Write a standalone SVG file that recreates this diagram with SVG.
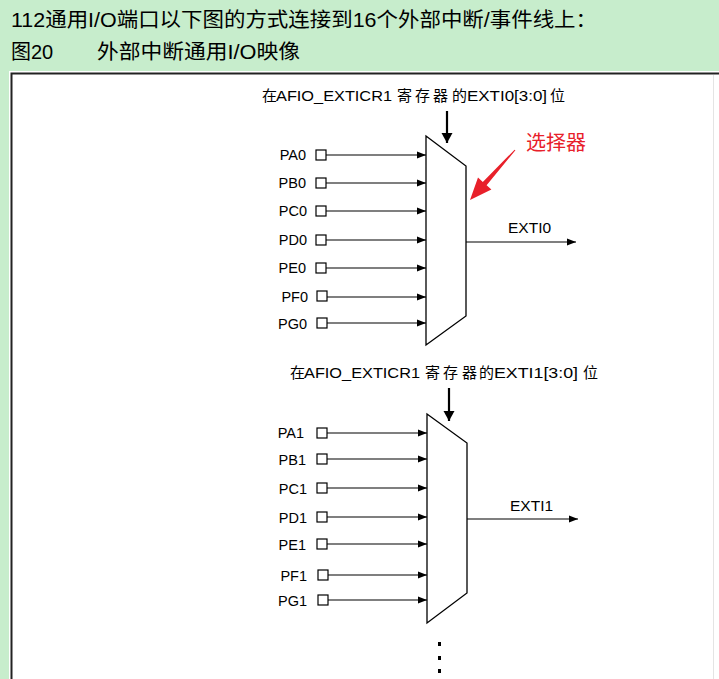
<svg xmlns="http://www.w3.org/2000/svg" width="719" height="679" viewBox="0 0 719 679">
<style>
.t{font-family:"Liberation Sans","Noto Sans CJK SC",sans-serif;fill:#000}
.lbl{font-family:"Liberation Sans",sans-serif;font-size:14.5px;text-anchor:end;fill:#000}
.cj{font-family:"Noto Sans CJK SC",sans-serif;font-size:15px;fill:#000}
.la{font-family:"Liberation Sans",sans-serif;font-size:15.5px;fill:#000}
.in{stroke:#000;stroke-width:1.2;fill:none;marker-end:url(#ah)}
.box{fill:#fff;stroke:#000;stroke-width:1.2}
.mux{fill:#fff;stroke:#000;stroke-width:1.3}
.out{stroke:#000;stroke-width:1.2;fill:none;marker-end:url(#ah)}
.ctl{stroke:#000;stroke-width:2.2;fill:none;marker-end:url(#ahb)}
</style>
<defs>
<marker id="ah" markerUnits="userSpaceOnUse" markerWidth="10" markerHeight="8" refX="9" refY="4" orient="auto"><path d="M0,0.5 L9,4 L0,7.5 z" fill="#000"/></marker>
<marker id="ahb" markerUnits="userSpaceOnUse" markerWidth="12" markerHeight="12" refX="10" refY="5.5" orient="auto"><path d="M0,0 L10,5.5 L0,11 z" fill="#000"/></marker>
</defs>
<rect x="0" y="0" width="719" height="679" fill="#c7edcc"/>
<rect x="9" y="71" width="710" height="608" fill="#fff"/>
<path d="M11.5,679 V73.5 H719" fill="none" stroke="#222" stroke-width="2"/>
<line x1="713.5" y1="75" x2="713.5" y2="679" stroke="#e4e4e4" stroke-width="1"/>
<g id="title">
<text class="t" x="11" y="27" font-size="20" textLength="586" lengthAdjust="spacingAndGlyphs">112通用I/O端口以下图的方式连接到16个外部中断/事件线上：</text>
<text class="t" x="11" y="59" font-size="20">图20</text>
<text class="t" x="97" y="59" font-size="20" textLength="203" lengthAdjust="spacingAndGlyphs">外部中断通用I/O映像</text>
</g>
<g id="header0">
<text class="cj" x="262" y="101">在</text>
<text class="la" x="276" y="101" textLength="116" lengthAdjust="spacingAndGlyphs">AFIO_EXTICR1</text>
<text class="cj" x="397" y="101">寄</text>
<text class="cj" x="415" y="101">存</text>
<text class="cj" x="433" y="101">器</text>
<text class="cj" x="452" y="101">的</text>
<text class="la" x="467" y="101" textLength="80" lengthAdjust="spacingAndGlyphs">EXTI0[3:0]</text>
<text class="cj" x="550" y="101">位</text>
</g>
<g id="header1">
<text class="cj" x="290" y="378">在</text>
<text class="la" x="304" y="378" textLength="116" lengthAdjust="spacingAndGlyphs">AFIO_EXTICR1</text>
<text class="cj" x="425" y="378">寄</text>
<text class="cj" x="443" y="378">存</text>
<text class="cj" x="462" y="378">器</text>
<text class="cj" x="479" y="378">的</text>
<text class="la" x="494" y="378" textLength="84" lengthAdjust="spacingAndGlyphs">EXTI1[3:0]</text>
<text class="cj" x="583" y="378">位</text>
</g>
<g id="selector-note">
<text x="526" y="150" font-family="Noto Sans CJK SC,sans-serif" font-size="20" fill="#e8202a">选择器</text>
<polygon points="515.4,150.3 486.6,185.3 491.4,189.6 470,200 478,177.6 482.8,181.9 514.6,149.7" fill="#e8202a"/>
</g>
<g id="connectors">
<line class="ctl" x1="447" y1="111" x2="447" y2="143"/>
<line class="in" x1="326" y1="155" x2="426" y2="155"/>
<line class="in" x1="326" y1="183" x2="426" y2="183"/>
<line class="in" x1="326" y1="211" x2="426" y2="211"/>
<line class="in" x1="326" y1="240" x2="426" y2="240"/>
<line class="in" x1="326" y1="268" x2="426" y2="268"/>
<line class="in" x1="327" y1="297" x2="426" y2="297"/>
<line class="in" x1="327" y1="323" x2="426" y2="323"/>
<line class="out" x1="466" y1="242" x2="576" y2="242"/>
<line class="ctl" x1="449" y1="388" x2="449" y2="421"/>
<line class="in" x1="327" y1="433" x2="427" y2="433"/>
<line class="in" x1="327" y1="459" x2="427" y2="459"/>
<line class="in" x1="327" y1="488" x2="427" y2="488"/>
<line class="in" x1="327" y1="517" x2="427" y2="517"/>
<line class="in" x1="327" y1="544" x2="427" y2="544"/>
<line class="in" x1="328" y1="575" x2="427" y2="575"/>
<line class="in" x1="328" y1="600" x2="427" y2="600"/>
<line class="out" x1="467" y1="519" x2="578" y2="519"/>
</g>
<g id="mux0">
<polygon class="mux" points="426,136 466,166 466,316 426,345"/>
<text class="la" x="508" y="233" font-size="15">EXTI0</text>
</g>
<g id="mux1">
<polygon class="mux" points="427,414 467,443 467,593 427,623"/>
<text class="la" x="510" y="511" font-size="15">EXTI1</text>
</g>
<g id="pins0">
<rect class="box" x="316" y="150" width="10" height="10"/><text class="lbl" x="306" y="160">PA0</text>
<rect class="box" x="316" y="178" width="10" height="10"/><text class="lbl" x="306" y="188">PB0</text>
<rect class="box" x="316" y="206" width="10" height="10"/><text class="lbl" x="307" y="216">PC0</text>
<rect class="box" x="316" y="235" width="10" height="10"/><text class="lbl" x="307" y="245">PD0</text>
<rect class="box" x="316" y="263" width="10" height="10"/><text class="lbl" x="306" y="273">PE0</text>
<rect class="box" x="317" y="291" width="10" height="10"/><text class="lbl" x="308" y="302">PF0</text>
<rect class="box" x="317" y="318" width="10" height="10"/><text class="lbl" x="307" y="329">PG0</text>
</g>
<g id="pins1">
<rect class="box" x="317" y="428" width="10" height="10"/><text class="lbl" x="304" y="438">PA1</text>
<rect class="box" x="317" y="454" width="10" height="10"/><text class="lbl" x="306" y="465">PB1</text>
<rect class="box" x="317" y="483" width="10" height="10"/><text class="lbl" x="307" y="494">PC1</text>
<rect class="box" x="317" y="512" width="10" height="10"/><text class="lbl" x="307" y="523">PD1</text>
<rect class="box" x="317" y="539" width="10" height="10"/><text class="lbl" x="306" y="550">PE1</text>
<rect class="box" x="318" y="570" width="10" height="10"/><text class="lbl" x="307" y="581">PF1</text>
<rect class="box" x="318" y="595" width="10" height="10"/><text class="lbl" x="307" y="606">PG1</text>
</g>
<g id="ellipsis" fill="#000">
<rect x="438" y="642" width="3" height="4"/>
<rect x="438" y="656" width="3" height="4"/>
<rect x="438" y="669" width="3" height="4"/>
</g>
</svg>
